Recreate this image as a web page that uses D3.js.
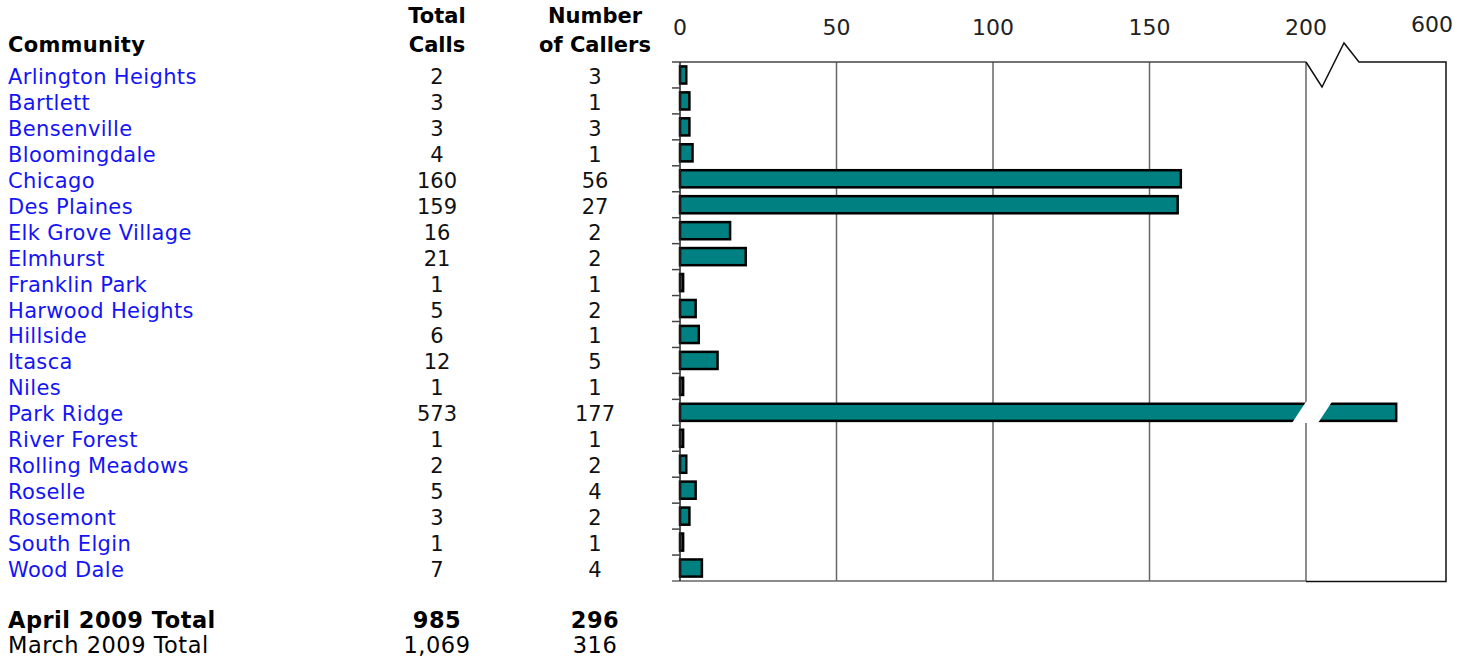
<!DOCTYPE html>
<html>
<head>
<meta charset="utf-8">
<script src="https://cdn.jsdelivr.net/npm/d3@7"></script>
<style>
  body { margin: 0; background: #fff; }
  text { font-family: "DejaVu Sans", Verdana, sans-serif; }
</style>
</head>
<body>
<svg id="chart" width="1470" height="662"></svg>
<script>
var communities = ["Arlington Heights","Bartlett","Bensenville","Bloomingdale","Chicago","Des Plaines",
  "Elk Grove Village","Elmhurst","Franklin Park","Harwood Heights","Hillside","Itasca","Niles",
  "Park Ridge","River Forest","Rolling Meadows","Roselle","Rosemont","South Elgin","Wood Dale"];
var totalCalls = [2,3,3,4,160,159,16,21,1,5,6,12,1,573,1,2,5,3,1,7];
var numCallers = [3,1,3,1,56,27,2,2,1,2,1,5,1,177,1,2,4,2,1,4];
var tickValues = [0,50,100,150,200,600];
var totals = [
  {label: "April 2009 Total", calls: "985", callers: "296", bold: true},
  {label: "March 2009 Total", calls: "1,069", callers: "316", bold: false}
];

var svg = d3.select("#chart");
var fs = 21;
var colCalls = 437, colCallers = 595;
var plotTop = 62, plotBottom = 581;

// eje con corte: 200..505 se colapsa en el mismo pixel
var x = d3.scaleLinear().domain([0, 200, 505, 600]).range([680, 1306, 1306, 1432]);
var rightEdge = x(600) + 14;
var y = d3.scaleBand().domain(communities).range([plotTop, plotBottom]).paddingInner(0.34).paddingOuter(0.17);
var band = d3.scaleBand().domain(communities).range([plotTop, plotBottom]);

// encabezados
var head = svg.append("g").attr("font-weight", "bold").attr("font-size", fs).attr("fill", "#000");
head.append("text").attr("x", 8).attr("y", 52).attr("letter-spacing", 0.3).text("Community");
head.append("text").attr("x", colCalls).attr("y", 23).attr("text-anchor", "middle").text("Total");
head.append("text").attr("x", colCalls).attr("y", 52).attr("text-anchor", "middle").text("Calls");
head.append("text").attr("x", colCallers).attr("y", 23).attr("text-anchor", "middle").text("Number");
head.append("text").attr("x", colCallers).attr("y", 52).attr("text-anchor", "middle").text("of Callers");

// filas de la tabla
var rows = svg.append("g").attr("font-size", fs);
communities.forEach(function(c, i) {
  var cy = band(c) + band.bandwidth() / 2 + 9;
  rows.append("text").attr("x", 8).attr("y", cy).attr("fill", "#1414f5").attr("letter-spacing", 0.35).text(c);
  rows.append("text").attr("x", colCalls).attr("y", cy).attr("text-anchor", "middle").attr("fill", "#111").text(totalCalls[i]);
  rows.append("text").attr("x", colCallers).attr("y", cy).attr("text-anchor", "middle").attr("fill", "#111").text(numCallers[i]);
});

// totales
totals.forEach(function(t, i) {
  var ty = 628 + i * 25;
  var g = svg.append("g").attr("font-size", 22.5).attr("font-weight", t.bold ? "bold" : "normal").attr("fill", "#000")
    .attr("letter-spacing", 0.5);
  g.append("text").attr("x", 8).attr("y", ty).text(t.label);
  g.append("text").attr("x", colCalls).attr("y", ty).attr("text-anchor", "middle").text(t.calls);
  g.append("text").attr("x", colCallers).attr("y", ty).attr("text-anchor", "middle").text(t.callers);
});

// etiquetas del eje superior
svg.append("g").attr("font-size", 22).attr("fill", "#222")
  .selectAll("text").data(tickValues).enter().append("text")
  .attr("x", function(d) { return x(d); })
  .attr("y", function(d) { return d == 600 ? 32 : 35; })
  .attr("text-anchor", "middle")
  .text(function(d) { return d; });

// lineas de rejilla
svg.append("g").attr("stroke", "#666").attr("stroke-width", 1.5)
  .selectAll("line").data([50, 100, 150, 200]).enter().append("line")
  .attr("x1", function(d) { return x(d); }).attr("x2", function(d) { return x(d); })
  .attr("y1", plotTop).attr("y2", plotBottom);

// marco
var x200 = x(200);
svg.append("line").attr("x1", x(0)).attr("x2", x200).attr("y1", plotTop).attr("y2", plotTop)
  .attr("stroke", "#444").attr("stroke-width", 1.5);
svg.append("polyline")
  .attr("points", [[x200, plotTop], [x200 + 16, plotTop + 25], [x200 + 38, plotTop - 19], [x200 + 53, plotTop], [rightEdge, plotTop], [rightEdge, plotBottom + 0.5], [x200, plotBottom + 0.5]].join(" "))
  .attr("fill", "none").attr("stroke", "#111").attr("stroke-width", 1.5);
svg.append("line").attr("x1", x(0) - 8).attr("x2", x200).attr("y1", plotBottom).attr("y2", plotBottom)
  .attr("stroke", "#666").attr("stroke-width", 1.5);

// barras
svg.append("g").selectAll("rect").data(communities).enter().append("rect")
  .attr("x", x(0))
  .attr("y", function(d) { return y(d); })
  .attr("width", function(d, i) { return x(totalCalls[i]) - x(0); })
  .attr("height", y.bandwidth())
  .attr("fill", "#008080").attr("stroke", "#000").attr("stroke-width", 2.5);

// corte de la barra grande
communities.forEach(function(c, i) {
  if (totalCalls[i] > 200) {
    var by = y(c) - 2, bh = y.bandwidth() + 4;
    svg.append("polygon")
      .attr("points", [[x200, by], [x200 + 26, by], [x200 + 12, by + bh], [x200 - 14, by + bh]].join(" "))
      .attr("fill", "#fff");
  }
});

// eje izquierdo y marcas
svg.append("line").attr("x1", x(0)).attr("x2", x(0)).attr("y1", plotTop).attr("y2", plotBottom)
  .attr("stroke", "#222").attr("stroke-width", 1.5);
svg.append("g").attr("stroke", "#444").attr("stroke-width", 1.5)
  .selectAll("line").data(communities).enter().append("line")
  .attr("x1", x(0) - 8).attr("x2", x(0))
  .attr("y1", function(d) { return band(d); }).attr("y2", function(d) { return band(d); });
</script>
</body>
</html>
